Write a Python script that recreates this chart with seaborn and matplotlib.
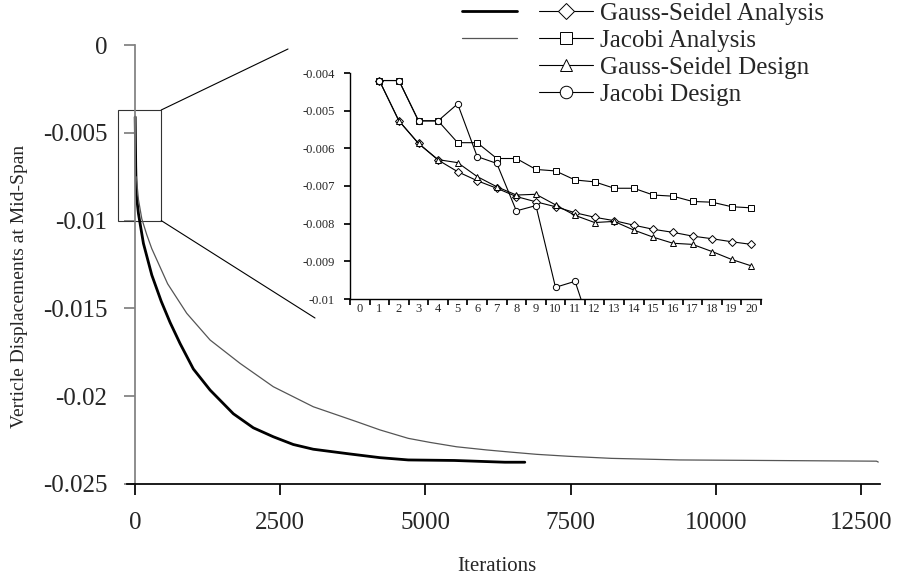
"""Mid-span displacement convergence: Gauss-Seidel vs Jacobi, with a zoom on the first 20 iterations."""
import matplotlib
matplotlib.use("Agg")
import matplotlib.pyplot as plt
from matplotlib.legend_handler import HandlerTuple
from matplotlib.lines import Line2D
from matplotlib.patches import ConnectionPatch, Rectangle
import seaborn as sns

# full runs (main chart)
GS_ANALYSIS_IT = [1, 10, 20, 57, 143, 287, 450, 602, 774, 1003, 1291, 1692, 2036,
                  2380, 2724, 3068, 3700, 4217, 4704, 5500, 6368, 6712]
GS_ANALYSIS_VAL = [-0.0041, -0.0069, -0.0085, -0.0096, -0.0113, -0.0131, -0.0146,
                   -0.0158, -0.0170, -0.01845, -0.01965, -0.02100, -0.02180,
                   -0.02231, -0.02275, -0.02302, -0.02329, -0.02350, -0.02363,
                   -0.02366, -0.02376, -0.02376]
JAC_ANALYSIS_IT = [20, 57, 115, 200, 287, 560, 889, 1291, 1807, 2380, 3068, 3815,
                   4217, 4704, 5077, 5536, 6053, 6454, 6913, 7457, 8204, 9379,
                   12770, 12800]
JAC_ANALYSIS_VAL = [-0.0075, -0.0088, -0.0099, -0.0108, -0.0116, -0.0136, -0.01528,
                    -0.0168, -0.01813, -0.01946, -0.0206, -0.02145, -0.02192,
                    -0.0224, -0.02263, -0.02288, -0.02306, -0.02318, -0.02331,
                    -0.02342, -0.02354, -0.02363, -0.02370, -0.02375]

# first iterations (inset)
INSET_IT = list(range(1, 21))
GS_ANALYSIS_20 = [-0.0042, -0.00527, -0.00587, -0.00631, -0.00662, -0.00686, -0.00706,
                  -0.00728, -0.00742, -0.00755, -0.00771, -0.00783, -0.00792, -0.00804,
                  -0.00815, -0.00823, -0.00833, -0.0084, -0.00848, -0.00855]
JAC_ANALYSIS_20 = [-0.0042, -0.0042, -0.00527, -0.00527, -0.00585, -0.00585, -0.00627,
                   -0.00627, -0.00656, -0.0066, -0.00684, -0.00689, -0.00706, -0.00706,
                   -0.00724, -0.00727, -0.00741, -0.00743, -0.00755, -0.00758]
GS_DESIGN_20 = [-0.0042, -0.00527, -0.00587, -0.0063, -0.00638, -0.00675, -0.00702,
                -0.00724, -0.00722, -0.0075, -0.00778, -0.00797, -0.00794, -0.00817,
                -0.00836, -0.00852, -0.00855, -0.00874, -0.00895, -0.00912]
JAC_DESIGN_IT = list(range(1, 13))
JAC_DESIGN_12 = [-0.0042, -0.0042, -0.00527, -0.00527, -0.00482, -0.00622, -0.0064,
                 -0.00766, -0.00752, -0.00969, -0.00953, -0.0111]

LABELS = ["Gauss-Seidel Analysis", "Jacobi Analysis", "Gauss-Seidel Design", "Jacobi Design"]
MAIN_XTICKS = [0, 2500, 5000, 7500, 10000, 12500]
MAIN_XTICKLABELS = ["0", "2500", "5000", "7500", "10000", "12500"]
MAIN_YTICKS = [0, -0.005, -0.01, -0.015, -0.02, -0.025]
MAIN_YTICKLABELS = ["0", "-0.005", "-0.01", "-0.015", "-0.02", "-0.025"]
INSET_YTICKS = [-0.004, -0.005, -0.006, -0.007, -0.008, -0.009, -0.01]
INSET_YTICKLABELS = ["-0.004", "-0.005", "-0.006", "-0.007", "-0.008", "-0.009", "-0.01"]
ZOOM_X = (-290, 450)
ZOOM_Y = (-0.01, -0.0037)

sns.set_theme(style="white")
plt.rcParams["font.family"] = ["Liberation Serif", "DejaVu Serif"]

W, H = 897, 582
fig = plt.figure(figsize=(W / 100, H / 100), dpi=100)
ax = fig.add_axes([127 / W, 1 - 484 / H, 753 / W, 439 / H])

sns.lineplot(x=GS_ANALYSIS_IT, y=GS_ANALYSIS_VAL, ax=ax, color="black", lw=2.0)
gs_main = ax.lines[-1]
sns.lineplot(x=JAC_ANALYSIS_IT, y=JAC_ANALYSIS_VAL, ax=ax, color="#555555", lw=0.9)
jac_main = ax.lines[-1]

ax.set_xlim(-140, 12830)
ax.set_ylim(-0.025, 0)
ax.set_xticks(MAIN_XTICKS, MAIN_XTICKLABELS)
ax.set_yticks(MAIN_YTICKS, MAIN_YTICKLABELS)
ax.spines["left"].set_position(("data", 0))
ax.spines["left"].set_color("#808080")
ax.spines["bottom"].set_color("black")
for side in ("top", "right"):
    ax.spines[side].set_visible(False)
ax.tick_params(axis="y", left=True, direction="out", length=8, color="#808080",
               labelsize=18, pad=12)
ax.tick_params(axis="x", bottom=True, direction="out", length=8, color="black",
               labelsize=18, pad=12)
ax.set_xlabel("Iterations", fontsize=15)
ax.xaxis.set_label_coords(0.491, -0.189)
ax.xaxis.label.set_va("center")
ax.set_ylabel("Verticle Displacements at Mid-Span", fontsize=14)
ax.yaxis.set_label_coords(-0.143, 0.45)
ax.yaxis.label.set_va("center")

# zoom box and fan lines toward the inset
ax.add_patch(Rectangle((ZOOM_X[0], ZOOM_Y[0]), ZOOM_X[1] - ZOOM_X[0], ZOOM_Y[1] - ZOOM_Y[0],
                       fill=False, edgecolor="#333333", lw=0.8, clip_on=False))
for y_corner, end in ((ZOOM_Y[1], (288 / W, 1 - 49 / H)), (ZOOM_Y[0], (315 / W, 1 - 318 / H))):
    fig.add_artist(ConnectionPatch(xyA=(ZOOM_X[1], y_corner), coordsA=ax.transData,
                                   xyB=end, coordsB=fig.transFigure,
                                   color="black", lw=0.8))

# inset: first 20 iterations
axi = fig.add_axes([350 / W, 1 - 299 / H, 411 / W, 226 / H])
mk = dict(color="black", lw=0.8, markersize=4.5, markerfacecolor="white",
          markeredgecolor="black", markeredgewidth=0.7)
sns.lineplot(x=INSET_IT, y=GS_ANALYSIS_20, ax=axi, marker="D", **{**mk, "markersize": 4})
gs_in = axi.lines[-1]
sns.lineplot(x=INSET_IT, y=JAC_ANALYSIS_20, ax=axi, marker="s", **mk)
jac_in = axi.lines[-1]
sns.lineplot(x=INSET_IT, y=GS_DESIGN_20, ax=axi, marker="^", **mk)
gsd_in = axi.lines[-1]
sns.lineplot(x=JAC_DESIGN_IT, y=JAC_DESIGN_12, ax=axi, marker="o", **mk)
jd_in = axi.lines[-1]

axi.set_xlim(-0.5, 20.5)
axi.set_ylim(-0.01, -0.004)
axi.set_xticks([i - 0.5 for i in range(22)], [""] * 22)
axi.set_xticks(range(21), [str(i) for i in range(21)], minor=True)
axi.set_yticks(INSET_YTICKS, INSET_YTICKLABELS)
axi.patch.set_alpha(0)
for side in ("top", "right"):
    axi.spines[side].set_visible(False)
for side in ("left", "bottom"):
    axi.spines[side].set_color("black")
    axi.spines[side].set_linewidth(1.0)
axi.tick_params(axis="x", which="major", bottom=True, length=4, color="black")
axi.tick_params(axis="x", which="minor", bottom=True, length=0, labelsize=9, pad=3)
axi.tick_params(axis="y", left=True, length=4, color="black", labelsize=9, pad=7)

blank = Line2D([], [], color="none")
fig.legend(handles=[(gs_main, gs_in), (jac_main, jac_in), (blank, gsd_in), (blank, jd_in)],
           labels=LABELS, handler_map={tuple: HandlerTuple(ndivide=None, pad=0.88)},
           loc="upper left", bbox_to_anchor=(462 / W, 0.996), frameon=False,
           borderpad=0, borderaxespad=0, handlelength=5.24, handletextpad=0.28,
           labelspacing=0.18, numpoints=1, markerscale=2, fontsize=18)

fig.savefig("out.png", dpi=100)
plt.close(fig)
